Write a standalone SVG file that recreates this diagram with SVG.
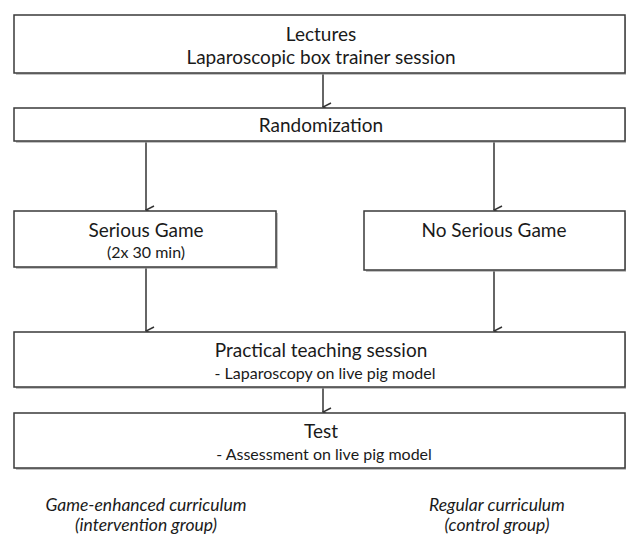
<svg xmlns="http://www.w3.org/2000/svg" width="626" height="537" viewBox="0 0 626 537">
<style>
.box{fill:#fff;stroke:#3a3a3a;stroke-width:1.5}
.sh{fill:#9a9a9a;opacity:.6}
.t{font-family:Lato,"Liberation Sans",sans-serif;font-size:19px;fill:#1a1a1a;text-anchor:middle}
.s{font-size:16px}
.i{font-style:italic;font-size:17.5px}
.c{stroke:#333;stroke-width:1.5;fill:none;marker-end:url(#a)}
</style>
<defs>
<marker id="a" markerWidth="10" markerHeight="10" refX="5" refY="9" orient="auto" markerUnits="userSpaceOnUse" viewBox="0 0 10 10">
<path d="M1,1 L5,9 L9,1" fill="none" stroke="#333" stroke-width="1.5"/>
</marker>
</defs>
<g id="connectors">
<line class="c" x1="323" y1="74" x2="323" y2="107"/>
<line class="c" x1="146" y1="142" x2="146" y2="210"/>
<line class="c" x1="494" y1="142" x2="494" y2="210"/>
<line class="c" x1="146" y1="268" x2="146" y2="331"/>
<line class="c" x1="494" y1="271" x2="494" y2="331"/>
<line class="c" x1="323" y1="388" x2="323" y2="412"/>
</g>
<g id="lectures">
<rect class="sh" x="16" y="17" width="612" height="58"/>
<rect class="box" x="14" y="15" width="611" height="58"/>
<text class="t" x="321" y="41">Lectures</text>
<text class="t" x="321" y="64">Laparoscopic box trainer session</text>
</g>
<g id="randomization">
<rect class="sh" x="16" y="110" width="612" height="33"/>
<rect class="box" x="14" y="108" width="611" height="33"/>
<text class="t" x="321" y="132">Randomization</text>
</g>
<g id="serious-game">
<rect class="sh" x="16" y="213" width="262" height="56"/>
<rect class="box" x="14" y="211" width="262" height="56"/>
<text class="t" x="146" y="237">Serious Game</text>
<text class="t s" x="146" y="258">(2x 30 min)</text>
</g>
<g id="no-serious-game">
<rect class="sh" x="366" y="213" width="262" height="59"/>
<rect class="box" x="364" y="211" width="261" height="59"/>
<text class="t" x="494" y="237">No Serious Game</text>
</g>
<g id="practical">
<rect class="sh" x="16" y="334" width="612" height="55"/>
<rect class="box" x="14" y="332" width="611" height="55"/>
<text class="t" x="321" y="357">Practical teaching session</text>
<text class="t s" x="325" y="379">- Laparoscopy on live pig model</text>
</g>
<g id="test">
<rect class="sh" x="16" y="415" width="612" height="55"/>
<rect class="box" x="14" y="413" width="611" height="55"/>
<text class="t" x="321" y="438">Test</text>
<text class="t s" x="324" y="460">- Assessment on live pig model</text>
</g>
<g id="labels">
<text class="t i" x="146" y="511">Game-enhanced curriculum</text>
<text class="t i" x="146" y="531">(intervention group)</text>
<text class="t i" x="497" y="511">Regular curriculum</text>
<text class="t i" x="497" y="531">(control group)</text>
</g>
</svg>
